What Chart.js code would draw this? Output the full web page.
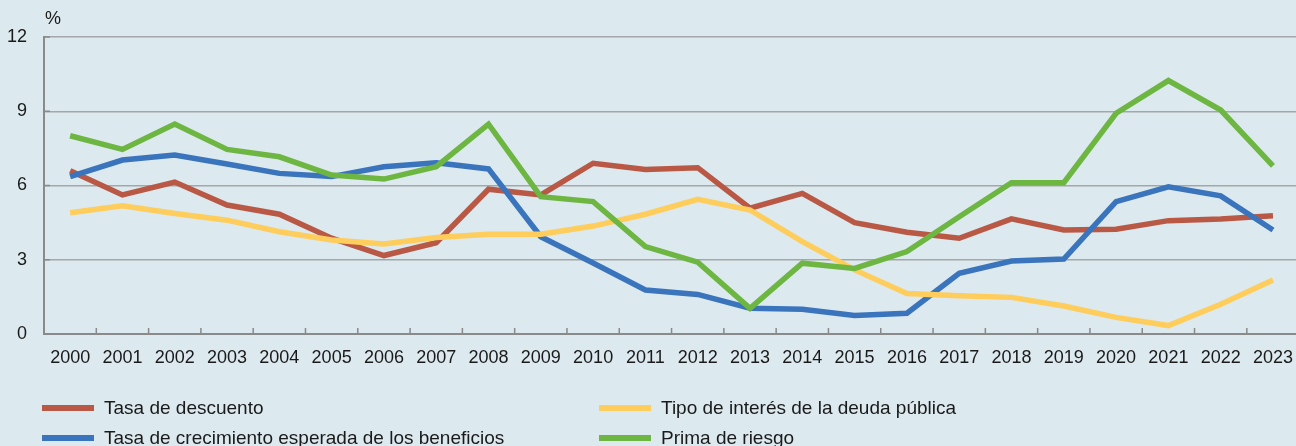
<!DOCTYPE html>
<html>
<head>
<meta charset="utf-8">
<script src="https://cdn.jsdelivr.net/npm/chart.js@4.4.1/dist/chart.umd.min.js"></script>
<style>
  html, body { margin: 0; padding: 0; background: #dce9ef; }
  #wrap { position: relative; width: 1296px; height: 446px; overflow: hidden; font-family: "Liberation Sans", Arial, sans-serif; color: #1a1a1a; }
  #unit { position: absolute; left: 45px; top: 8px; font-size: 18px; }
  .leg { position: absolute; font-size: 19px; line-height: 20px; white-space: nowrap; }
  .leg span.sw { position: absolute; left: 0; top: 7px; width: 52px; height: 6px; }
  .leg span.tx { position: absolute; left: 62px; top: 0; }
</style>
</head>
<body>
<div id="wrap">
  <canvas id="myChart" width="1306" height="446"></canvas>
  <div id="unit">%</div>
  <div id="legend"></div>
</div>
<script>
// años
const years = ["2000","2001","2002","2003","2004","2005","2006","2007","2008","2009","2010","2011",
  "2012","2013","2014","2015","2016","2017","2018","2019","2020","2021","2022","2023"];

// series (%)
const tasaDescuento = [6.6, 5.62, 6.14, 5.21, 4.84, 3.87, 3.17, 3.69, 5.85, 5.62, 6.9, 6.65,
  6.72, 5.08, 5.68, 4.5, 4.11, 3.87, 4.65, 4.2, 4.23, 4.58, 4.65, 4.78];
const tasaCrecimiento = [6.36, 7.03, 7.23, 6.87, 6.49, 6.36, 6.76, 6.92, 6.67, 3.93, 2.87, 1.78,
  1.6, 1.04, 1.0, 0.75, 0.84, 2.45, 2.95, 3.03, 5.35, 5.95, 5.58, 4.2];
const tipoInteres = [4.9, 5.18, 4.87, 4.6, 4.13, 3.8, 3.64, 3.9, 4.03, 4.03, 4.36, 4.84,
  5.44, 5.01, 3.73, 2.59, 1.64, 1.55, 1.48, 1.13, 0.67, 0.34, 1.2, 2.18];
const primaRiesgo = [8.01, 7.46, 8.48, 7.46, 7.16, 6.42, 6.26, 6.76, 8.48, 5.55, 5.35, 3.53,
  2.9, 1.04, 2.86, 2.65, 3.33, 4.74, 6.11, 6.11, 8.92, 10.24, 9.05, 6.79];

const yTicks = [0, 3, 6, 9, 12];

const seriesNames = ["Tasa de descuento", "Tasa de crecimiento esperada de los beneficios",
  "Tipo de interés de la deuda pública", "Prima de riesgo"];
const seriesColors = ["#b95945", "#3a74bc", "#fecd5c", "#6db642"];
const seriesData = [tasaDescuento, tasaCrecimiento, tipoInteres, primaRiesgo];
const drawOrder = [4, 3, 2, 1];

// marcas cortas de los ejes, hacia dentro
const axisMarks = {
  id: "axisMarks",
  afterDatasetsDraw(chart) {
    const ctx = chart.ctx;
    const xs = chart.scales.x, ys = chart.scales.y;
    const area = chart.chartArea;
    ctx.save();
    ctx.strokeStyle = "#8a8a8a";
    ctx.lineWidth = 1.5;
    ctx.beginPath();
    for (let i = 1; i < years.length; i++) {
      const x = (xs.getPixelForValue(i - 1) + xs.getPixelForValue(i)) / 2;
      ctx.moveTo(x, area.bottom);
      ctx.lineTo(x, area.bottom - 6);
    }
    yTicks.forEach(v => {
      const y = ys.getPixelForValue(v);
      ctx.moveTo(area.left, y);
      ctx.lineTo(area.left + 6, y);
    });
    ctx.stroke();
    ctx.restore();
  }
};

const chartData = {
  labels: years,
  datasets: seriesData.map((d, i) => ({
    label: seriesNames[i],
    data: d,
    borderColor: seriesColors[i],
    backgroundColor: seriesColors[i],
    borderWidth: 5.5,
    pointRadius: 0,
    tension: 0,
    order: drawOrder[i],
  })),
};

const myChart = new Chart(document.getElementById("myChart"), {
  type: "line",
  data: chartData,
  plugins: [axisMarks],
  options: {
    responsive: false,
    animation: false,
    layout: { padding: { top: 37, right: 0, left: 0, bottom: 0 } },
    plugins: {
      legend: { display: false },
      tooltip: { enabled: false },
    },
    scales: {
      x: {
        offset: true,
        grid: { display: false, drawTicks: false },
        border: { display: true, color: "#8a8a8a", width: 2 },
        ticks: {
          color: "#1a1a1a",
          font: { family: "Liberation Sans", size: 18 },
          padding: 13,
          maxRotation: 0,
          autoSkip: false,
        },
        afterFit(scale) { scale.height = 112; },
      },
      y: {
        min: 0,
        max: 12,
        afterBuildTicks(scale) { scale.ticks = yTicks.map(v => ({ value: v })); },
        grid: { color: "#a3a7aa", lineWidth: 1.5, drawTicks: false },
        border: { display: true, color: "#8a8a8a", width: 2 },
        ticks: {
          color: "#1a1a1a",
          font: { family: "Liberation Sans", size: 18 },
          padding: 17,
        },
        afterFit(scale) { scale.width = 44; },
      },
    },
  },
});

// leyenda en dos columnas
const legendPos = [[42, 398], [42, 428], [599, 398], [599, 428]];
const legendBox = document.getElementById("legend");
seriesNames.forEach((name, k) => {
  const el = document.createElement("div");
  el.className = "leg";
  el.style.left = legendPos[k][0] + "px";
  el.style.top = legendPos[k][1] + "px";
  el.innerHTML = '<span class="sw" style="background:' + seriesColors[k] + '"></span><span class="tx">' + name + '</span>';
  legendBox.appendChild(el);
});
</script>
</body>
</html>
